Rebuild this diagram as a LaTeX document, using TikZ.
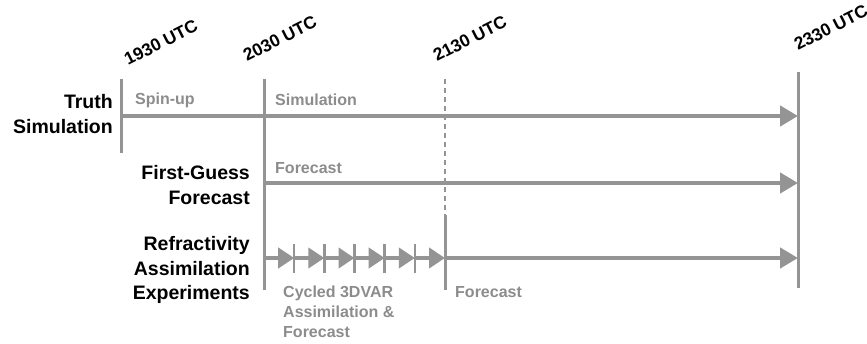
\documentclass[tikz,border=0pt]{standalone}
\usepackage{fontspec}
\setmainfont{Liberation Sans}
\usetikzlibrary{arrows.meta}
\definecolor{linegray}{RGB}{148,148,148}
\definecolor{textgray}{RGB}{140,140,140}

\begin{document}
\begin{tikzpicture}[x=1pt, y=-1pt, font=\bfseries]
	\useasboundingbox (0,0) rectangle (867,343);
      \tikzstyle{time} = [font=\fontsize{17.5}{20}\selectfont\bfseries, color=black, rotate=27, anchor=base west, inner sep=0pt]
      \tikzstyle{run} = [font=\fontsize{19.5}{24.5}\selectfont\bfseries, color=black, align=right, anchor=east, inner sep=0pt]
      \tikzstyle{phase} = [font=\fontsize{16}{20}\selectfont\bfseries, color=textgray, align=left, anchor=west, inner sep=0pt]
      \tikzstyle{tline} = [draw=linegray, line width=3pt]
      \tikzstyle{tick} = [draw=linegray, line width=2.5pt]
      \tikzstyle{track} = [draw=linegray, line width=4.5pt, -{Triangle[length=18pt,width=20pt]}]
      \tikzstyle{cycle} = [draw=linegray, line width=4.5pt, -{Triangle[length=16pt,width=20pt]}]
      % time marks
      \coordinate (T1930top) at (121,79);
      \coordinate (T1930bot) at (121,153);
      \coordinate (T2030top) at (264,79);
      \coordinate (T2030bot) at (264,290);
      \coordinate (T2130top) at (445,79);
      \coordinate (T2130mid) at (445,215);
      \coordinate (T2130bot) at (445,290);
      \coordinate (T2330top) at (798,72);
      \coordinate (T2330bot) at (798,288);
      \node (L1930) at (128,66) [time] {1930 UTC};
      \node (L2030) at (247,62) [time] {2030 UTC};
      \node (L2130) at (437,62) [time] {2130 UTC};
      \node (L2330) at (798,51) [time] {2330 UTC};
      \draw[tline] (T1930top) -- (T1930bot);
      \draw[tline] (T2030top) -- (T2030bot);
      \draw[draw=linegray, line width=1.2pt, dash pattern=on 5pt off 4pt] (T2130top) -- (T2130mid);
      \draw[tline] (T2130mid) -- (T2130bot);
      \draw[tline] (T2330top) -- (T2330bot);
      % rows
      \node (truth) at (113,114) [run] {Truth\\Simulation};
      \node (firstguess) at (250,185) [run] {First-Guess\\Forecast};
      \node (refrac) at (250,270) [run] {Refractivity\\Assimilation\\Experiments};
      \coordinate (truthA) at (T1930top |- 0,116);
      \coordinate (truthB) at (T2330top |- 0,116);
      \coordinate (guessA) at (T2030top |- 0,183);
      \coordinate (guessB) at (T2330top |- 0,183);
      \coordinate (fcstA) at (T2130top |- 0,258);
      \coordinate (fcstB) at (T2330top |- 0,258);
      \draw[track] (truthA) -- (truthB);
      \draw[track] (guessA) -- (guessB);
      \draw[track] (fcstA) -- (fcstB);
      \foreach \i in {0,...,6}
        \coordinate (c\i) at ({264+30.17*\i},258);
      \foreach \i/\j in {0/1,1/2,2/3,3/4,4/5,5/6}
        \draw[cycle] (c\i) -- (c\j);
      \foreach \i in {1,...,5}
        \draw[tick] ([yshift=14pt]c\i) -- ([yshift=-15pt]c\i);
      % phase labels
      \node (spinup) at (135,100) [phase] {Spin-up};
      \node (simul) at (275,100) [phase] {Simulation};
      \node (guessfc) at (275,168) [phase] {Forecast};
      \node (cycled) at (283,312) [phase] {Cycled 3DVAR\\Assimilation \&\\Forecast};
      \node (refracfc) at (455,292) [phase] {Forecast};
    \end{tikzpicture}
\end{document}
